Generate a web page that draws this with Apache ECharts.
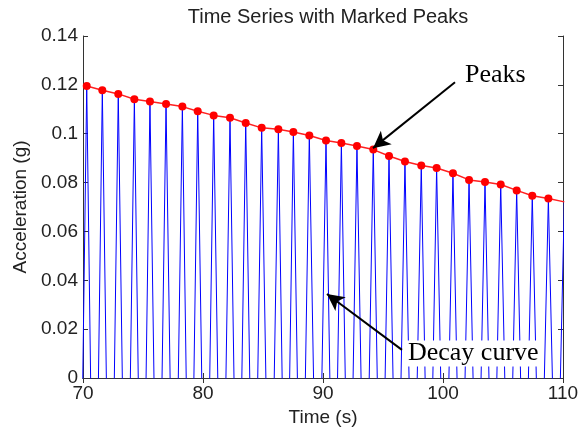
<!DOCTYPE html>
<html>
<head>
<meta charset="utf-8">
<script src="https://cdn.jsdelivr.net/npm/echarts@6/dist/echarts.min.js"></script>
<style>
html,body{margin:0;padding:0;background:#fff;}
#c{width:582px;height:433px;}
</style>
</head>
<body>
<div id="c"></div>
<script>
// Peak times (s) and peak accelerations (g)
const peakT = [70.31, 71.61, 72.94, 74.28, 75.58, 76.92, 78.28, 79.56, 80.89, 82.25, 83.56, 84.89, 86.28, 87.53, 88.86, 90.25, 91.53, 92.83, 94.19, 95.50, 96.83, 98.19, 99.47, 100.83, 102.17, 103.50, 104.81, 106.14, 107.44, 108.78, 110.11];
const peakV = [0.1195, 0.1178, 0.1163, 0.1141, 0.1132, 0.1122, 0.1111, 0.1092, 0.1075, 0.1065, 0.1044, 0.1024, 0.1018, 0.1007, 0.0993, 0.0972, 0.0962, 0.0950, 0.0935, 0.0909, 0.0886, 0.0870, 0.0860, 0.0838, 0.0811, 0.0802, 0.0792, 0.0768, 0.0746, 0.0735, 0.0721];
// Trough times and values (below the visible range, estimated)
const troughT = [69.65, 70.96, 72.28, 73.61, 74.93, 76.25, 77.60, 78.92, 80.23, 81.57, 82.91, 84.23, 85.59, 86.91, 88.20, 89.56, 90.89, 92.18, 93.51, 94.85, 96.17, 97.51, 98.83, 100.15, 101.50, 102.84, 104.16, 105.48, 106.79, 108.11, 109.45, 110.77];
const troughV = [-0.120, -0.119, -0.117, -0.115, -0.114, -0.113, -0.112, -0.110, -0.108, -0.107, -0.105, -0.103, -0.102, -0.101, -0.100, -0.098, -0.097, -0.096, -0.094, -0.092, -0.090, -0.088, -0.087, -0.085, -0.082, -0.081, -0.080, -0.078, -0.076, -0.074, -0.073, -0.072];
// Axis ticks
const xTicks = [70, 80, 90, 100, 110];
const yTicks = [0, 0.02, 0.04, 0.06, 0.08, 0.1, 0.12, 0.14];
// Annotations (data coordinates)
const notePeaks = {text: 'Peaks', t: 101.67, v: 0.1240, tailT: 101.0, tailV: 0.1211, tipT: 94.17, tipV: 0.0941};
const noteDecay = {text: 'Decay curve', t: 96.83, v: 0.0100, tailT: 96.58, tailV: 0.0115, tipT: 90.33, tipV: 0.0344};

const signal = [];
peakT.forEach((t, i) => signal.push([t, peakV[i]]));
troughT.forEach((t, i) => signal.push([t, troughV[i]]));
signal.sort((a, b) => a[0] - b[0]);
const peaks = peakT.map((t, i) => [t, peakV[i]]);

const chart = echarts.init(document.getElementById('c'), null, {renderer: 'canvas'});
const font = '"Liberation Sans", Arial, sans-serif';
const serif = '"Liberation Serif", "Times New Roman", serif';
const axisCommon = {
  axisLine: {show: true, lineStyle: {color: '#333', width: 1}},
  axisTick: {show: true, inside: true, length: 5, lineStyle: {color: '#333'}},
  splitLine: {show: false}
};
const option = {
  animation: false,
  backgroundColor: '#fff',
  title: {
    text: 'Time Series with Marked Peaks',
    left: 323, top: 2, textAlign: 'center',
    textStyle: {fontFamily: font, fontSize: 20, fontWeight: 'normal', color: '#222'}
  },
  grid: {left: 83, right: 19, top: 36, bottom: 55},
  xAxis: [
    Object.assign({
      type: 'value', min: xTicks[0], max: xTicks[xTicks.length - 1], interval: 10,
      name: 'Time (s)', nameLocation: 'middle', nameGap: 28,
      nameTextStyle: {fontFamily: font, fontSize: 19, color: '#222'},
      axisLabel: {fontFamily: font, fontSize: 19, color: '#222', margin: 6}
    }, axisCommon),
    Object.assign({
      type: 'value', position: 'top', min: xTicks[0], max: xTicks[xTicks.length - 1], interval: 10,
      axisLabel: {show: false}
    }, axisCommon)
  ],
  yAxis: [
    Object.assign({
      type: 'value', min: yTicks[0], max: yTicks[yTicks.length - 1], interval: 0.02,
      name: 'Acceleration (g)', nameLocation: 'middle', nameGap: 52,
      nameTextStyle: {fontFamily: font, fontSize: 19, color: '#222'},
      axisLabel: {fontFamily: font, fontSize: 19, color: '#222', margin: 5,
        formatter: v => String(+v.toFixed(2))}
    }, axisCommon),
    Object.assign({
      type: 'value', position: 'right', min: yTicks[0], max: yTicks[yTicks.length - 1], interval: 0.02,
      axisLabel: {show: false}
    }, axisCommon)
  ],
  series: [
    {
      type: 'line', data: signal, xAxisIndex: 0, yAxisIndex: 0,
      smooth: false, showSymbol: false, clip: true,
      lineStyle: {color: '#0000ff', width: 1}, silent: true
    },
    {
      type: 'line', data: peaks, xAxisIndex: 0, yAxisIndex: 0,
      symbol: 'circle', symbolSize: 8, showSymbol: true, clip: true,
      itemStyle: {color: '#ff0000'},
      lineStyle: {color: '#ff2020', width: 1.5}, silent: true,
      markLine: {
        silent: true, animation: false,
        symbol: ['none', 'arrow'], symbolSize: [13, 17],
        label: {show: false},
        lineStyle: {color: '#000', width: 2, type: 'solid'},
        emphasis: {disabled: true},
        data: [
          [{coord: [notePeaks.tailT, notePeaks.tailV]}, {coord: [notePeaks.tipT, notePeaks.tipV]}],
          [{coord: [noteDecay.tailT, noteDecay.tailV]}, {coord: [noteDecay.tipT, noteDecay.tipV]}]
        ]
      }
    }
  ]
};
chart.setOption(option);

function place() {
  const p1 = chart.convertToPixel({gridIndex: 0}, [notePeaks.t, notePeaks.v]);
  const p2 = chart.convertToPixel({gridIndex: 0}, [noteDecay.t, noteDecay.v]);
  chart.setOption({
    graphic: [
      {type: 'text', x: p1[0], y: p1[1], z: 100,
        style: {text: notePeaks.text, font: '26px ' + serif, fill: '#000',
          textAlign: 'left', textVerticalAlign: 'middle', backgroundColor: '#fff', padding: [0, 2]}},
      {type: 'text', x: p2[0], y: p2[1], z: 100,
        style: {text: noteDecay.text, font: '26px ' + serif, fill: '#000',
          textAlign: 'left', textVerticalAlign: 'middle', backgroundColor: '#fff', padding: [0, 3]}}
    ]
  });
}
place();
</script>
</body>
</html>
